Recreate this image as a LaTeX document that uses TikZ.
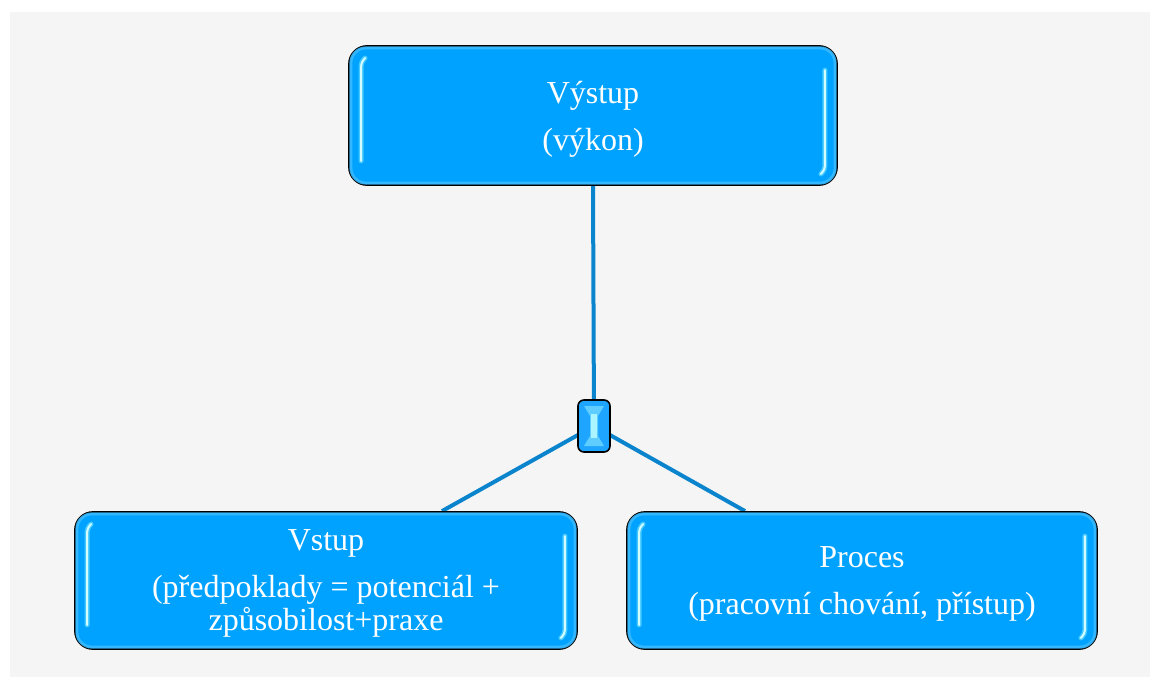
\documentclass[tikz,border=0pt]{standalone}
\usepackage{fontspec}
\setmainfont{Liberation Serif}
\usetikzlibrary{calc}
\definecolor{bgc}{RGB}{245,245,245}
\definecolor{boxc}{RGB}{0,162,255}
\definecolor{linec}{RGB}{10,132,204}
\definecolor{glowc}{RGB}{90,215,255}
\definecolor{shinec}{RGB}{210,252,255}
\definecolor{rimc}{RGB}{60,188,255}
\definecolor{gemc}{RGB}{30,165,255}
\definecolor{gemfacet}{RGB}{95,205,255}
\definecolor{gemcore}{RGB}{170,245,255}
\pgfdeclarelayer{back}
\pgfdeclarelayer{bg}
\pgfsetlayers{back,bg,main}
\tikzset{
  card/.style={draw=black, line width=1.8pt, fill=boxc, rounded corners=18pt,
    text=white, align=center, font=\fontsize{32}{33}\selectfont, inner sep=0pt,
    text depth=-1pt},
  link/.style={draw=linec, line width=4pt},
  rim/.style={draw=rimc, line width=3pt, rounded corners=15pt, opacity=0.85},
  shineglow/.style={draw=glowc, line width=5pt, opacity=0.75, line cap=round, rounded corners=4pt},
  shinecore/.style={draw=shinec, line width=2pt, line cap=round, rounded corners=4pt},
}
\newcommand\boxshine[1]{%
  \draw[rim] ($(#1.north west)+(2.8,2.8)$) rectangle ($(#1.south east)+(-2.8,-2.8)$);
  \foreach \sty in {shineglow,shinecore}{
    \draw[\sty] ($(#1.south west)+(13,-25)$) -- ($(#1.north west)+(13,17)$) -- ($(#1.north west)+(17,13)$);
    \draw[\sty] ($(#1.north east)+(-13,25)$) -- ($(#1.south east)+(-13,-16)$) -- ($(#1.south east)+(-17,-12)$);
  }
}
\begin{document}
\begin{tikzpicture}[x=1pt,y=-1pt]
\useasboundingbox (0,0) rectangle (1150,677);
\begin{pgfonlayer}{back}
  \fill[white] (0,0) rectangle (1150,677);
  \fill[bgc] (10,12) rectangle (1150,677);
\end{pgfonlayer}

\node[card, minimum width=488pt, minimum height=139pt] (out) at (593,115.5) {Výstup\\[14pt](výkon)};
\node[card, minimum width=502pt, minimum height=137pt] (inp) at (326,580.5) {Vstup\\[14pt](předpoklady = potenciál +\\způsobilost+praxe};
\node[card, minimum width=470pt, minimum height=137pt] (proc) at (862,580.5) {Proces\\[14pt](pracovní chování, přístup)};
\boxshine{out}
\boxshine{inp}
\boxshine{proc}

\node[draw=black, line width=1.6pt, fill=gemc, rounded corners=6pt,
      minimum width=32pt, minimum height=52pt, inner sep=0pt] (hub) at (594,426) {};
\fill[gemfacet] ($(hub.center)+(-10,-20)$) -- ($(hub.center)+(10,-20)$) -- ($(hub.center)+(4,-10)$)
  -- ($(hub.center)+(4,10)$) -- ($(hub.center)+(10,20)$) -- ($(hub.center)+(-10,20)$)
  -- ($(hub.center)+(-4,10)$) -- ($(hub.center)+(-4,-10)$) -- cycle;
\fill[gemcore] ($(hub.center)+(-3,-12)$) rectangle ($(hub.center)+(3,12)$);

\begin{pgfonlayer}{bg}
  \draw[link] (hub.center) -- (out.south);
  \draw[link] (hub.center) -- ($(inp.north)+(116,0)$);
  \draw[link] (hub.center) -- ($(proc.north)+(-117,0)$);
\end{pgfonlayer}
\end{tikzpicture}
\end{document}
